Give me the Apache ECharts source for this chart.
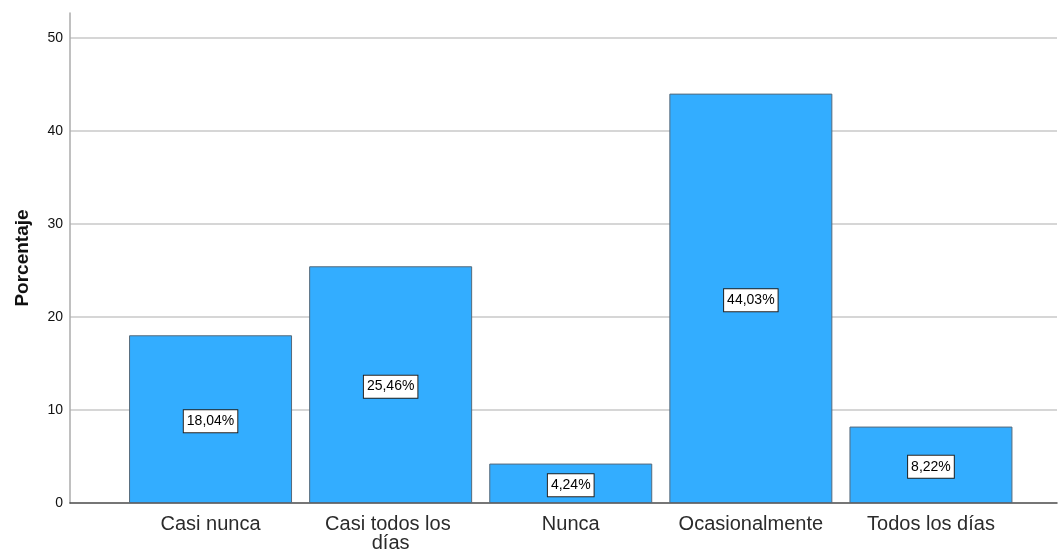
<!DOCTYPE html>
<html>
<head>
<meta charset="utf-8">
<script src="https://cdn.jsdelivr.net/npm/echarts@6/dist/echarts.min.js"></script>
<style>
  html, body { margin: 0; padding: 0; background: #fff; }
  #chart { width: 1058px; height: 554px; }
</style>
</head>
<body>
<div id="chart"></div>
<script>
// Frecuencia de respuesta (porcentaje por categoría)
const categories = ['Casi nunca', 'Casi todos los días', 'Nunca', 'Ocasionalmente', 'Todos los días'];
const percentages = [18.04, 25.46, 4.24, 44.03, 8.22];
const yMin = 0;
const yMax = 52.7;
const yStep = 10;

const FONT = '"Liberation Sans", Arial, sans-serif';

function pctLabel(v) {
  return v.toFixed(2).replace('.', ',') + '%';
}

const chart = echarts.init(document.getElementById('chart'), null, { renderer: 'canvas' });

chart.setOption({
  animation: false,
  backgroundColor: '#ffffff',
  grid: [
    // frame: value axis, gridlines and baseline across the whole width
    { left: 70, right: 1, top: 13, bottom: 51 },
    // bars and category labels
    { left: 120.5, right: 37, top: 13, bottom: 51 }
  ],
  xAxis: [
    {
      gridIndex: 0,
      type: 'value',
      min: 0,
      max: 1,
      axisLine: { show: true, lineStyle: { color: '#4a4a4a', width: 1.5 } },
      axisTick: { show: false },
      axisLabel: { show: false },
      splitLine: { show: false }
    },
    {
      gridIndex: 1,
      type: 'category',
      data: categories,
      axisLine: { show: false },
      axisTick: { show: false },
      axisLabel: {
        interval: 0,
        margin: 12,
        color: '#2b2b2b',
        fontFamily: FONT,
        fontSize: 20,
        lineHeight: 19,
        width: 150,
        overflow: 'break'
      }
    }
  ],
  yAxis: [
    {
      gridIndex: 0,
      type: 'value',
      min: yMin,
      max: yMax,
      interval: yStep,
      name: 'Porcentaje',
      nameLocation: 'middle',
      nameGap: 38,
      nameTextStyle: {
        fontFamily: FONT,
        fontSize: 19,
        fontWeight: 'bold',
        color: '#111'
      },
      axisLine: { show: true, lineStyle: { color: '#ababab', width: 1.5 } },
      axisTick: { show: false },
      axisLabel: {
        margin: 7,
        color: '#111',
        fontFamily: FONT,
        fontSize: 14,
        showMaxLabel: false
      },
      splitLine: {
        show: true,
        showMinLine: false,
        showMaxLine: false,
        lineStyle: { color: '#d6d6d6', width: 2 }
      }
    },
    {
      gridIndex: 1,
      type: 'value',
      min: yMin,
      max: yMax,
      interval: yStep,
      show: false
    }
  ],
  series: [
    {
      type: 'bar',
      xAxisIndex: 1,
      yAxisIndex: 1,
      data: percentages,
      barWidth: '90.5%',
      itemStyle: {
        color: '#33adff',
        borderColor: '#56697a',
        borderWidth: 1
      },
      label: {
        show: true,
        position: 'inside',
        offset: [0, 2],
        formatter: p => pctLabel(p.value),
        fontFamily: FONT,
        fontSize: 14,
        lineHeight: 16,
        color: '#000',
        backgroundColor: '#fff',
        borderColor: '#222',
        borderWidth: 1,
        padding: [3, 3, 3, 3]
      }
    }
  ]
});
</script>
</body>
</html>
